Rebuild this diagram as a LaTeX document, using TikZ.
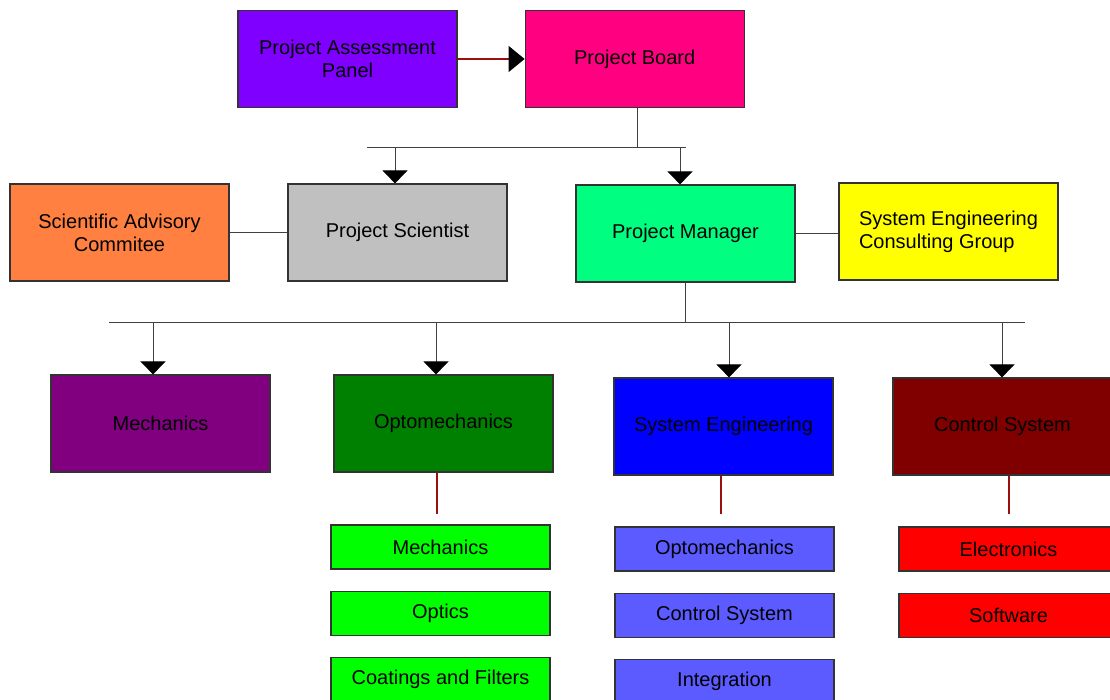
\documentclass[tikz,border=0pt]{standalone}
\usepackage{fontspec}
\setmainfont{Liberation Sans}
\usepackage{xcolor}
\usepackage{tikz}
\usetikzlibrary{arrows.meta,positioning}

\definecolor{panel}{HTML}{8000FF}
\definecolor{board}{HTML}{FF0080}
\definecolor{advisory}{HTML}{FF8040}
\definecolor{scientist}{HTML}{C0C0C0}
\definecolor{manager}{HTML}{00FF80}
\definecolor{consult}{HTML}{FFFF00}
\definecolor{mech}{HTML}{800080}
\definecolor{opto}{HTML}{008000}
\definecolor{syseng}{HTML}{0000FF}
\definecolor{ctrl}{HTML}{800000}
\definecolor{optosub}{HTML}{00FF00}
\definecolor{sysengsub}{HTML}{5B5BFF}
\definecolor{ctrlsub}{HTML}{FF0000}
\definecolor{darkline}{HTML}{9A1010}

\begin{document}
\begin{tikzpicture}[x=0.5pt,y=-0.5pt,node distance=10.5pt,
  box/.style={draw=black!80,line width=0.6pt,minimum width=109.5pt,minimum height=48.5pt,
    inner sep=2pt,align=center,font=\fontsize{10}{11.5}\selectfont},
  subbox/.style={box,minimum height=22pt},
  link/.style={draw=black!75,line width=0.5pt},
  redlink/.style={draw=darkline,line width=0.6pt},
  arr/.style={link,-{Triangle[length=6.5pt,width=12.5pt,color=black]}}]
\useasboundingbox (0,0) rectangle (1110,700);

\node[box,fill=panel] (a) at (347.5,59) {Project Assessment\\Panel};
\node[box,fill=board,right=33.5pt of a] (b) {Project Board};

\node[box,fill=advisory] (c) at (119.5,232.5) {Scientific Advisory\\Commitee};
\node[box,fill=scientist] (d) at (397.5,232.5) {Project Scientist};
\node[box,fill=manager] (e) at (685.5,233.5) {Project Manager};
\node[box,fill=consult,align=left] (f) at (948.5,231.5) {System Engineering\\Consulting Group};

\node[box,fill=mech] (g) at (160.5,423.5) {Mechanics};
\node[box,fill=opto] (h) at (443.5,423.5) {Optomechanics};
\node[box,fill=syseng] (i) at (723.5,426.5) {System Engineering};
\node[box,fill=ctrl] (j) at (1002.5,426.5) {Control System};

\node[subbox,fill=optosub] (h1) at (440.5,547) {Mechanics};
\node[subbox,fill=optosub,below=of h1] (h2) {Optics};
\node[subbox,fill=optosub,below=of h2] (h3) {Coatings and Filters};
\node[subbox,fill=sysengsub] (i1) at (724.5,549) {Optomechanics};
\node[subbox,fill=sysengsub,below=of i1] (i2) {Control System};
\node[subbox,fill=sysengsub,below=of i2] (i3) {Integration};
\node[subbox,fill=ctrlsub] (j1) at (1008.5,549) {Electronics};
\node[subbox,fill=ctrlsub,below=of j1] (j2) {Software};

\draw[redlink,-{Triangle[length=8pt,width=13pt,color=black]}] (a)--(b);

\coordinate (t1) at (367,148);
\coordinate (t2) at (686,148);
\coordinate (bt) at (637,148);
\draw[link] (bt |- b.south)--(bt);
\draw[link] (t1)--(t2);
\foreach \n/\x in {d/395,e/680}{
  \coordinate (\n t) at (\x,148);
  \draw[arr] (\n t)--(\n t |- \n.north);
}
\draw[link] (c)--(d);
\draw[link] (e.east)--(f.west |- e.east);

\coordinate (u1) at (109,323);
\coordinate (u2) at (1025,323);
\draw[link] (e.south)--(e.south |- u1);
\draw[link] (u1)--(u2);
\foreach \n/\x in {g/153,h/436,i/729,j/1002}{
  \coordinate (\n t) at (\x,323);
  \draw[arr] (\n t)--(\n t |- \n.north);
}

\foreach \n/\x in {h/437,i/721,j/1009}{
  \coordinate (\n l) at (\x,514);
  \draw[redlink] (\n l |- \n.south)--(\n l);
}
\end{tikzpicture}
\end{document}
